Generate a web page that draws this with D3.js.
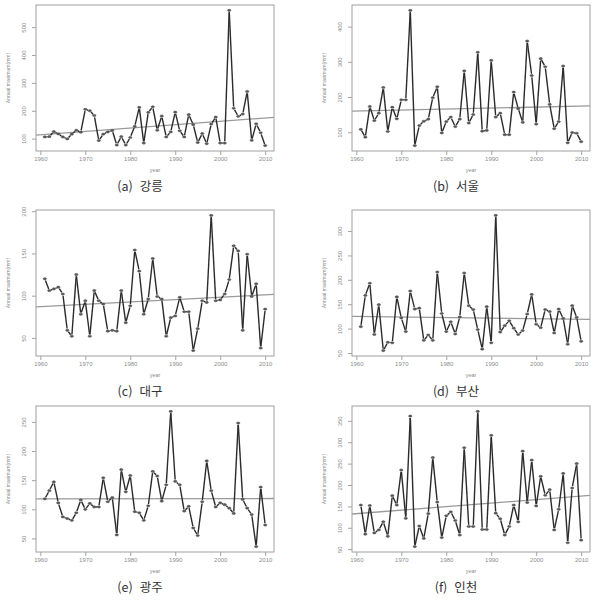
<!DOCTYPE html>
<html lang="ko">
<head>
<meta charset="UTF-8">
<script src="https://d3js.org/d3.v7.min.js"></script>
<title>Annual maximum</title>
<style>
  body { margin: 0; background: #fff; }
  svg text { font-family: "Liberation Sans", Arial, sans-serif; }
  .cap { font-family: "Noto Sans CJK KR", "Noto Sans", sans-serif; }
</style>
</head>
<body>
<svg id="svg1" width="595" height="602"></svg>
<script>

const years = d3.range(1961, 2011)

const gangneung = [106,107,125,117,106,99,116,130,123,205,200,183,93,116,124,129,77,107,77,104,
  144,212,84,194,214,130,181,106,124,195,128,106,186,150,86,118,82,152,177,84,
  84,560,209,180,188,269,94,153,121,75]
const seoul = [108,86,173,133,154,227,102,171,138,192,192,446,62,119,131,137,198,229,98,130,
  143,116,137,274,126,150,327,103,105,304,143,154,93,93,214,167,128,359,261,123,
  309,286,179,110,130,288,70,99,97,73]
const daegu = [120,106,108,110,102,59,52,125,78,94,52,106,94,90,58,59,58,106,68,88,
  154,129,78,96,144,99,96,52,74,76,98,81,81,35,61,94,92,195,94,95,
  102,119,159,153,59,149,99,114,38,84]
const busan = [104,168,193,88,149,55,72,71,165,122,94,177,140,142,76,87,76,216,131,94,
  114,89,124,214,147,139,98,58,145,71,332,93,106,116,101,88,96,130,170,109,
  102,139,135,91,140,121,68,147,123,74]
const gwangju = [118,132,147,111,87,84,81,94,116,100,110,104,104,154,113,120,56,168,130,158,
  96,94,81,106,165,157,114,142,268,148,142,97,105,68,55,113,183,132,104,111,
  108,102,93,248,117,102,91,36,138,73]
const incheon = [153,85,152,88,95,114,80,175,153,235,122,361,56,104,75,133,264,160,77,128,
  137,117,83,287,103,103,372,96,96,316,134,121,83,103,153,114,279,159,258,151,
  220,176,189,95,143,227,65,193,250,71]

// fitted trend read at 1960 and 2010
const trends = [[114,174],[160,174],[87,101],[125,119],[118,118.5],[133,174]]

const captions = ["(a)  강릉","(b)  서울","(c)  대구","(d)  부산","(e)  광주","(f)  인천"]
const series = [gangneung, seoul, daegu, busan, gwangju, incheon]
const xTicks = [1960,1970,1980,1990,2000,2010]

const boxLeft = [36, 352]
const boxTop = [5, 210, 406]
const boxW = 238, boxH = 146
const grey = "#8c8c8c"

let svg = d3.select("#svg1")

series.forEach(function(vals, i) {
    let col = i % 2, row = Math.floor(i / 2)
    let g = svg.append("g").attr("transform", `translate(${boxLeft[col]},${boxTop[row]})`)

    // R style 4% padding
    let xr = d3.extent(years), yr = d3.extent(vals)
    let xp = (xr[1] - xr[0]) * 0.04, yp = (yr[1] - yr[0]) * 0.04
    let x = d3.scaleLinear().domain([xr[0] - xp, xr[1] + xp]).range([0, boxW])
    let y = d3.scaleLinear().domain([yr[0] - yp, yr[1] + yp]).range([boxH, 0])

    let clipId = "clip" + i
    g.append("clipPath").attr("id", clipId).append("rect")
        .attr("width", boxW).attr("height", boxH)

    // x axis
    let xa = g.append("g").attr("transform", `translate(0,${boxH})`)
        .call(d3.axisBottom(x).tickValues(xTicks).tickFormat(d3.format("d")).tickSize(4).tickPadding(2))
    xa.select(".domain").remove()
    xa.selectAll("line").attr("stroke", grey).attr("stroke-width", 0.8)
    xa.selectAll("text").attr("fill", grey).style("font-size", "6px")

    // y axis, labels turned like R's las=0
    let ya = g.append("g")
        .call(d3.axisLeft(y).ticks(5).tickSize(4).tickPadding(3))
    ya.select(".domain").remove()
    ya.selectAll("line").attr("stroke", grey).attr("stroke-width", 0.8)
    ya.selectAll(".tick text").each(function() {
        d3.select(this)
          .attr("fill", grey).style("font-size", "6px")
          .attr("text-anchor", "middle")
          .attr("x", null).attr("dy", null).attr("y", 0)
          .attr("transform", "translate(-10,0) rotate(-90)")
    })

    // trend line
    let slope = (trends[i][1] - trends[i][0]) / 50
    let x0 = x.domain()[0], x1 = x.domain()[1]
    g.append("line")
        .attr("clip-path", `url(#${clipId})`)
        .attr("x1", x(x0)).attr("y1", y(trends[i][0] + slope * (x0 - 1960)))
        .attr("x2", x(x1)).attr("y2", y(trends[i][0] + slope * (x1 - 1960)))
        .attr("stroke", "#9a9a9a").attr("stroke-width", 1.3)

    // data segments with small gaps at the points (type = "b")
    let segs = d3.pairs(vals.map((d, k) => [x(years[k]), y(d)]))
    let gap = 1.8
    g.selectAll(".seg").data(segs).enter().append("line")
        .attr("class", "seg")
        .each(function(s) {
            let dx = s[1][0] - s[0][0], dy = s[1][1] - s[0][1]
            let len = Math.sqrt(dx * dx + dy * dy)
            let f = len > 2 * gap ? gap / len : 0.5
            d3.select(this)
              .attr("x1", s[0][0] + dx * f).attr("y1", s[0][1] + dy * f)
              .attr("x2", s[1][0] - dx * f).attr("y2", s[1][1] - dy * f)
        })
        .attr("stroke", "#2b2b2b")
        .attr("stroke-width", 1.4)

    g.selectAll(".pt").data(vals).enter().append("ellipse")
        .attr("class", "pt")
        .attr("cx", (d, k) => x(years[k]))
        .attr("cy", d => y(d))
        .attr("rx", 1.7).attr("ry", 1.1)
        .attr("fill", "#5a5a5a")
        .attr("stroke", "#444")
        .attr("stroke-width", 0.5)

    // box
    g.append("rect").attr("width", boxW).attr("height", boxH)
        .attr("fill", "none").attr("stroke", "#a0a0a0").attr("stroke-width", 1)

    // axis titles
    g.append("text")
        .attr("x", boxW / 2).attr("y", boxH + 21)
        .attr("text-anchor", "middle")
        .attr("fill", grey).style("font-size", "5.5px")
        .text("year")
    g.append("text")
        .attr("transform", `translate(-26,${boxH / 2}) rotate(-90)`)
        .attr("text-anchor", "middle")
        .attr("fill", grey).style("font-size", "5px")
        .text("Annual maximum(mm)")

    // caption
    g.append("text").attr("class", "cap")
        .attr("x", boxW / 2 - 15).attr("y", boxH + 40)
        .attr("text-anchor", "middle")
        .attr("fill", "#333").style("font-size", "12.5px")
        .style("white-space", "pre")
        .text(captions[i])
})

</script>
</body>
</html>
